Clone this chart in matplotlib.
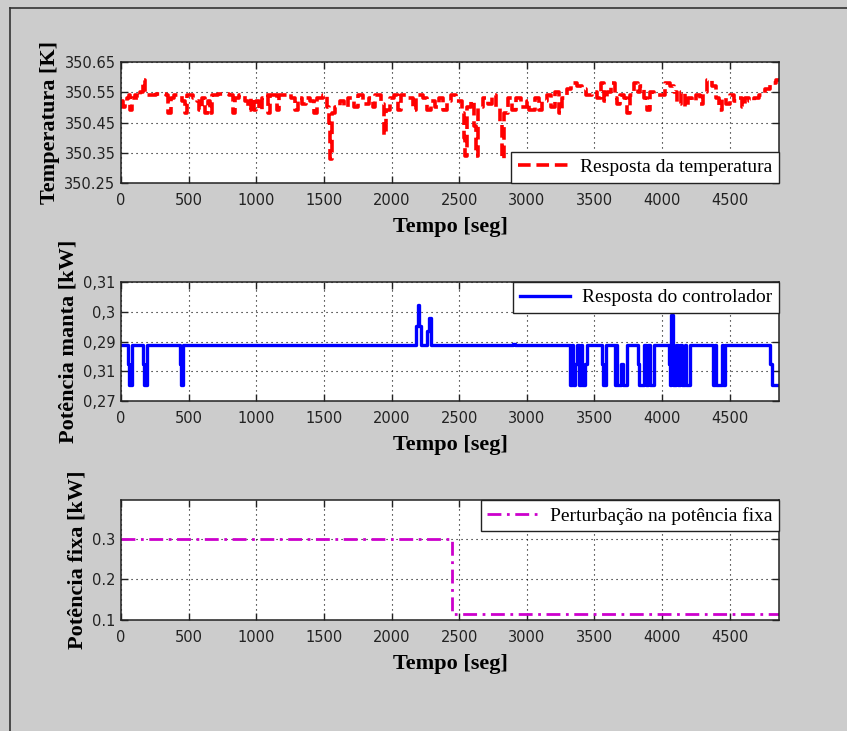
import matplotlib
matplotlib.use("Agg")
import matplotlib.pyplot as plt
from matplotlib.lines import Line2D

# Resposta da temperatura (tempo [s], temperatura [K])
t_temp = [0, 15, 30, 45, 60, 70, 85, 100, 120, 140, 160, 175, 190, 260, 330, 350, 370, 390,
          450, 470, 485, 530, 560, 580, 600, 620, 640, 660, 675, 720, 800, 830, 845, 870,
          920, 940, 960, 980, 1000, 1020, 1040, 1060, 1090, 1105, 1150, 1165, 1230, 1260,
          1290, 1310, 1340, 1370, 1400, 1430, 1450, 1490, 1520, 1535, 1545, 1560, 1580,
          1620, 1650, 1680, 1720, 1750, 1790, 1830, 1860, 1880, 1920, 1945, 1960, 1990,
          2020, 2050, 2070, 2120, 2160, 2180, 2230, 2260, 2290, 2320, 2350, 2380, 2410,
          2440, 2480, 2520, 2535, 2545, 2560, 2590, 2610, 2625, 2640, 2680, 2710, 2740,
          2770, 2800, 2815, 2830, 2860, 2890, 2920, 2960, 3000, 3020, 3060, 3090, 3110,
          3150, 3180, 3210, 3240, 3260, 3300, 3330, 3370, 3410, 3440, 3480, 3520, 3550,
          3570, 3590, 3620, 3650, 3670, 3690, 3720, 3740, 3760, 3790, 3820, 3840, 3870,
          3890, 3910, 3940, 4000, 4020, 4060, 4090, 4110, 4140, 4170, 4190, 4220, 4250,
          4280, 4300, 4330, 4370, 4400, 4420, 4440, 4470, 4500, 4530, 4560, 4590, 4610,
          4640, 4680, 4720, 4760, 4800, 4840, 4870]
temp = [350.52, 350.50, 350.52, 350.53, 350.54, 350.49, 350.53, 350.54, 350.53, 350.55,
        350.59, 350.55, 350.54, 350.545, 350.54, 350.48, 350.53, 350.54, 350.52, 350.48,
        350.54, 350.53, 350.52, 350.49, 350.53, 350.48, 350.52, 350.48, 350.54, 350.545,
        350.54, 350.48, 350.53, 350.54, 350.52, 350.49, 350.53, 350.49, 350.52, 350.49,
        350.53, 350.54, 350.48, 350.54, 350.49, 350.54, 350.545, 350.53, 350.49, 350.53,
        350.51, 350.53, 350.52, 350.48, 350.53, 350.54, 350.50, 350.45, 350.33, 350.48,
        350.50, 350.52, 350.50, 350.53, 350.50, 350.54, 350.51, 350.53, 350.50, 350.54,
        350.51, 350.41, 350.49, 350.53, 350.54, 350.49, 350.54, 350.53, 350.49, 350.54,
        350.53, 350.49, 350.52, 350.50, 350.53, 350.49, 350.52, 350.54, 350.52, 350.48,
        350.40, 350.34, 350.50, 350.52, 350.44, 350.34, 350.50, 350.53, 350.51, 350.54,
        350.50, 350.45, 350.33, 350.48, 350.53, 350.49, 350.53, 350.50, 350.52, 350.49,
        350.53, 350.49, 350.52, 350.54, 350.50, 350.55, 350.48, 350.53, 350.56, 350.58,
        350.57, 350.56, 350.54, 350.55, 350.53, 350.58, 350.52, 350.55, 350.58, 350.53,
        350.51, 350.54, 350.53, 350.48, 350.54, 350.58, 350.55, 350.57, 350.53, 350.49,
        350.55, 350.54, 350.54, 350.58, 350.57, 350.55, 350.51, 350.55, 350.50, 350.53,
        350.52, 350.54, 350.51, 350.55, 350.59, 350.57, 350.53, 350.49, 350.53, 350.51,
        350.54, 350.52, 350.53, 350.50, 350.53, 350.52, 350.53, 350.54, 350.56, 350.58,
        350.59, 350.59]

# Resposta do controlador (tempo [s], potencia [kW])
t_ctrl = [0, 50, 58, 80, 165, 172, 190, 435, 442, 460, 2180, 2195, 2205, 2215, 2265, 2280,
          2295, 2900, 2910, 3320, 3335, 3345, 3360, 3375, 3385, 3400, 3410, 3430, 3445,
          3460, 3555, 3565, 3585, 3650, 3660, 3670, 3700, 3710, 3740, 3820, 3830, 3860,
          3870, 3880, 3900, 3910, 3940, 4050, 4060, 4070, 4080, 4100, 4120, 4135, 4145,
          4170, 4180, 4210, 4380, 4390, 4400, 4440, 4450, 4465, 4800, 4815, 4870]
ctrl = [0.2888, 0.2823, 0.2755, 0.2888, 0.2823, 0.2755, 0.2888, 0.2823, 0.2755, 0.2888,
        0.2953, 0.3022, 0.2953, 0.2888, 0.2935, 0.2978, 0.2888, 0.2893, 0.2888, 0.2755,
        0.2888, 0.2755, 0.2823, 0.2888, 0.2755, 0.2888, 0.2755, 0.2823, 0.2888, 0.2888,
        0.2823, 0.2755, 0.2888, 0.2755, 0.2888, 0.2755, 0.2823, 0.2755, 0.2888, 0.2823,
        0.2755, 0.2755, 0.2888, 0.2755, 0.2888, 0.2755, 0.2888, 0.2823, 0.2755, 0.2988,
        0.2755, 0.2888, 0.2755, 0.2888, 0.2755, 0.2888, 0.2755, 0.2888, 0.2755, 0.2888,
        0.2755, 0.2888, 0.2755, 0.2888, 0.2823, 0.2755, 0.2755]

# Perturbacao na potencia fixa
t_fixa = [0, 2450, 4870]
fixa = [0.30, 0.115, 0.115]

xticks = [0, 500, 1000, 1500, 2000, 2500, 3000, 3500, 4000, 4500]
yticks_ctrl = [0.27, 0.28, 0.29, 0.30, 0.31]
yticklabels_ctrl = ["0,27", "0,31", "0,29", "0,3", "0,31"]

serif = "Liberation Serif"
bg = "#cccccc"

fig = plt.figure(figsize=(8.47, 7.31), dpi=100, facecolor=bg)

# moldura
fig.add_artist(Line2D([10/847, 10/847], [0, 1 - 8/731], color="#333333", lw=1.2))
fig.add_artist(Line2D([10/847, 1], [1 - 8/731, 1 - 8/731], color="#333333", lw=1.2))

left, width = 121/847, 658/847
ax1 = fig.add_axes([left, 1 - 183/731, width, 121/731])
ax2 = fig.add_axes([left, 1 - 401/731, width, 119/731])
ax3 = fig.add_axes([left, 1 - 620/731, width, 120/731])


def estilo(ax, ylabel):
    ax.set_xlim(0, 4865)
    ax.set_xticks(xticks)
    ax.grid(True, color="black", linestyle=(0, (1, 3.5)), linewidth=0.8)
    ax.tick_params(direction="in", top=True, right=True, length=5, width=1,
                   labelsize=10.5, colors="#222222")
    ax.tick_params(axis="x", pad=7)
    ax.tick_params(axis="y", pad=4)
    for s in ax.spines.values():
        s.set_linewidth(1.1)
        s.set_color("#222222")
    ax.set_xlabel("Tempo [seg]", fontfamily=serif, fontweight="bold", fontsize=16, labelpad=7)
    ax.set_ylabel(ylabel, fontfamily=serif, fontweight="bold", fontsize=16, labelpad=3)


ax1.step(t_temp, temp, where="post", color="red", lw=2.6, dashes=(3.5, 1.6),
         label="Resposta da temperatura")
ax1.set_ylim(350.25, 350.65)
ax1.set_yticks([350.25, 350.35, 350.45, 350.55, 350.65])
ax1.set_yticklabels(["350.25", "350.35", "350.45", "350.55", "350.65"])
estilo(ax1, "Temperatura [K]")

ax2.step(t_ctrl, ctrl, where="post", color="blue", lw=2.4, label="Resposta do controlador")
ax2.set_ylim(0.27, 0.31)
ax2.set_yticks(yticks_ctrl)
ax2.set_yticklabels(yticklabels_ctrl)
estilo(ax2, "Potência manta [kW]")

ax3.step(t_fixa, fixa, where="post", color="#cc00cc", lw=2.0, dashes=(5, 2, 1, 2),
         label="Perturbação na potência fixa")
ax3.set_ylim(0.1, 0.395)
ax3.set_yticks([0.1, 0.2, 0.3])
estilo(ax3, "Potência fixa [kW]")

for ax, loc in [(ax1, "lower right"), (ax2, "upper right"), (ax3, "upper right")]:
    leg = ax.legend(loc=loc, prop={"family": serif, "size": 14}, fancybox=False,
                    framealpha=1, borderaxespad=0, handlelength=2.6,
                    borderpad=0.35, handletextpad=0.6)
    leg.get_frame().set_edgecolor("#222222")
    leg.get_frame().set_linewidth(1.0)

fig.savefig("out.png", dpi=100, facecolor=bg)
